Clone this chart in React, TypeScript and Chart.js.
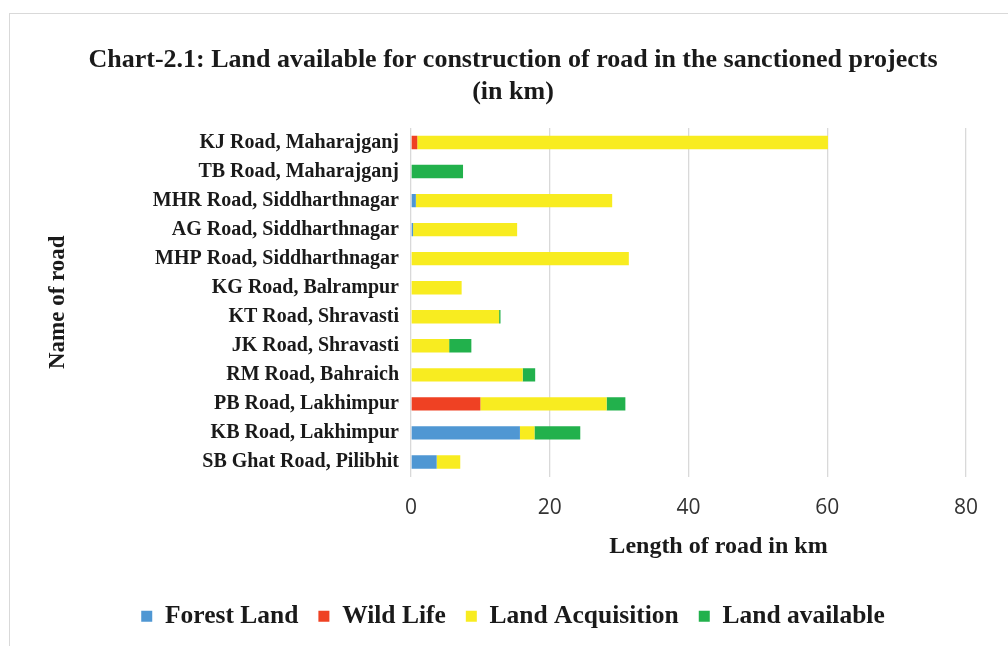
import React, { useEffect, useRef } from "react";
import { Chart, registerables } from "chart.js";
Chart.register(...registerables);

const chartTitle = [
  "Chart-2.1: Land available for construction of road in the sanctioned projects",
  "(in km)",
];
const yAxisTitle = "Name of road";
const xAxisTitle = "Length of road in km";

const roads = [
  "KJ Road, Maharajganj",
  "TB Road, Maharajganj",
  "MHR Road, Siddharthnagar",
  "AG Road, Siddharthnagar",
  "MHP Road, Siddharthnagar",
  "KG Road, Balrampur",
  "KT Road, Shravasti",
  "JK Road, Shravasti",
  "RM Road, Bahraich",
  "PB Road, Lakhimpur",
  "KB Road, Lakhimpur",
  "SB Ghat Road, Pilibhit",
];

const forestLand = [0, 0, 0.7, 0.3, 0, 0, 0, 0, 0, 0, 15.7, 3.7];
const wildLife = [0.9, 0, 0, 0, 0, 0, 0, 0, 0, 10.0, 0, 0];
const landAcquisition = [59.2, 0, 28.3, 15.0, 31.4, 7.3, 12.7, 5.5, 16.1, 18.2, 2.1, 3.4];
const landAvailable = [0, 7.5, 0, 0, 0, 0, 0.2, 3.2, 1.8, 2.7, 6.6, 0];

const xMin = 0;
const xMax = 80;
const xStep = 20;

const SERIF = '"Liberation Serif", "Times New Roman", serif';
const SANS = '"Open Sans", "Liberation Sans", sans-serif';
const TEXT = "#1a1a1a";

export default function App() {
  const ref = useRef<HTMLCanvasElement>(null);

  useEffect(() => {
    const xTitlePlugin = {
      id: "xTitlePlugin",
      afterDraw(chart: any) {
        const { ctx, chartArea } = chart;
        ctx.save();
        ctx.font = `bold 24px ${SERIF}`;
        ctx.fillStyle = TEXT;
        ctx.textAlign = "center";
        ctx.textBaseline = "middle";
        ctx.fillText(
          xAxisTitle,
          (chartArea.left + chartArea.right) / 2 + 30,
          chartArea.bottom + 70
        );
        ctx.restore();
      },
    };

    const chart = new Chart(ref.current!, {
      type: "bar",
      data: {
        labels: roads,
        datasets: [
          { label: "Forest Land", data: forestLand, backgroundColor: "#4f97d3" },
          { label: "Wild Life", data: wildLife, backgroundColor: "#ef4123" },
          { label: "Land Acquisition", data: landAcquisition, backgroundColor: "#f8ec20" },
          { label: "Land available", data: landAvailable, backgroundColor: "#22b14c" },
        ],
      },
      options: {
        indexAxis: "y",
        animation: false,
        responsive: false,
        maintainAspectRatio: false,
        datasets: {
          bar: { categoryPercentage: 1, barPercentage: 0.46, borderWidth: 0 },
        },
        layout: { padding: { left: 40, right: 22, top: 0, bottom: 7 } },
        plugins: {
          title: {
            display: true,
            text: chartTitle,
            color: TEXT,
            font: { family: SERIF, size: 26, weight: "bold", lineHeight: 1.23 },
            padding: { top: 44, bottom: 20 },
          },
          legend: {
            position: "bottom",
            labels: {
              boxWidth: 11,
              boxHeight: 11,
              padding: 20,
              color: TEXT,
              font: { family: SERIF, size: 25.5, weight: "bold" },
            },
          },
          tooltip: { enabled: false },
        },
        scales: {
          x: {
            type: "linear",
            stacked: true,
            min: xMin,
            max: xMax,
            ticks: {
              stepSize: xStep,
              padding: 19,
              color: "#333333",
              font: { family: SANS, size: 21 },
            },
            grid: { color: "#d9d9d9", lineWidth: 1.3, drawTicks: false },
            border: { display: false },
            afterFit: (s: any) => {
              s.height = 107;
            },
          },
          y: {
            type: "category",
            stacked: true,
            ticks: {
              autoSkip: false,
              padding: 12,
              color: TEXT,
              font: { family: SERIF, size: 20, weight: "bold" },
            },
            grid: { display: false, drawTicks: false },
            border: { display: false },
            title: {
              display: true,
              text: yAxisTitle,
              color: TEXT,
              font: { family: SERIF, size: 23, weight: "bold" },
              padding: 4,
            },
            afterFit: (s: any) => {
              s.width = 411 - 40;
            },
          },
          y2: {
            type: "linear",
            axis: "y",
            position: "right",
            display: true,
            ticks: { display: false },
            grid: { display: false, drawTicks: false },
            border: { display: false },
            afterFit: (s: any) => {
              s.width = 20;
            },
          },
        },
      },
      plugins: [xTitlePlugin],
    } as any);

    return () => chart.destroy();
  }, []);

  return (
    <div
      style={{
        position: "absolute",
        left: 0,
        top: 0,
        width: 1008,
        height: 646,
        background: "#ffffff",
      }}
    >
      <div
        style={{
          position: "absolute",
          left: 9,
          top: 13,
          right: 0,
          bottom: 0,
          borderTop: "1px solid #d9d9d9",
          borderLeft: "1px solid #d9d9d9",
        }}
      />
      <canvas
        ref={ref}
        width={1008}
        height={646}
        style={{ position: "absolute", left: 0, top: 0, display: "block" }}
      />
    </div>
  );
}
